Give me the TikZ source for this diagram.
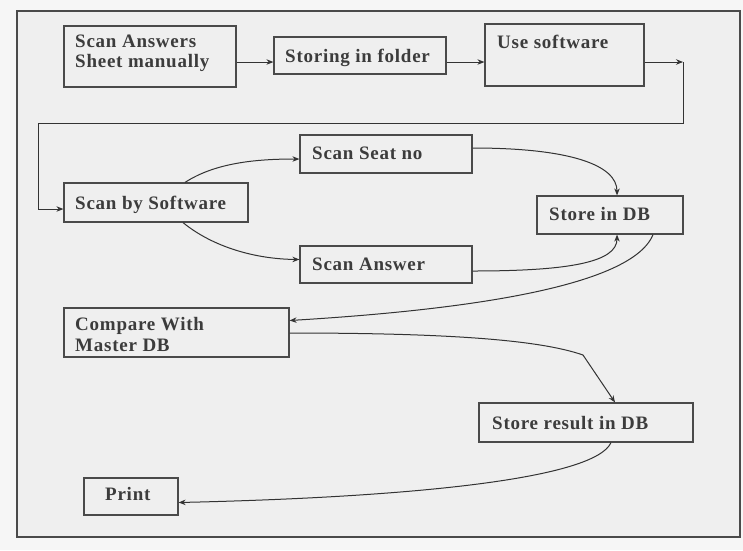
\documentclass[tikz,border=0pt]{standalone}
\usepackage{fontspec}
\setmainfont{Liberation Serif}[LetterSpace=4]
\usetikzlibrary{arrows.meta}
\definecolor{pagebg}{HTML}{F6F6F6}
\definecolor{panelbg}{HTML}{EFEFEF}
\definecolor{ink}{HTML}{3C3C3C}
\definecolor{rule}{HTML}{4A4A4A}
\tikzset{
  box/.style={draw=rule, line width=1.2pt, rectangle, inner sep=0pt},
  lbl/.style={anchor=base west, inner sep=0pt, text=ink,
              font=\fontsize{19}{21}\selectfont\bfseries},
  flow/.style={draw=black!80, line width=1pt,
               -{Stealth[length=7pt,width=5.5pt]}},
}
\begin{document}
\begin{tikzpicture}[x=1pt,y=-1pt]
  % page and outer frame
  \useasboundingbox (0,0) rectangle (743,550);
  \fill[pagebg] (0,0) rectangle (743,550);
  \draw[draw=rule, line width=1.2pt, fill=panelbg] (17,11) rectangle (740,537);

  % process boxes
  \node[box, minimum width=172pt, minimum height=61pt] (sa)  at (150,56.5) {};
  \node[box, minimum width=172pt, minimum height=37pt] (sf)  at (360,55.5) {};
  \node[box, minimum width=159pt, minimum height=62pt] (us)  at (564.5,55) {};
  \node[box, minimum width=184pt, minimum height=39pt] (sbs) at (156,202.5) {};
  \node[box, minimum width=172pt, minimum height=38pt] (ssn) at (386,154) {};
  \node[box, minimum width=172pt, minimum height=37pt] (san) at (386,264.5) {};
  \node[box, minimum width=146pt, minimum height=38pt] (sdb) at (610,215) {};
  \node[box, minimum width=225pt, minimum height=49pt] (cmp) at (176.5,332.5) {};
  \node[box, minimum width=214pt, minimum height=39pt] (srd) at (586,422.5) {};
  \node[box, minimum width=94pt,  minimum height=37pt] (prt) at (131,496.5) {};

  % box captions
  \node[lbl] (tsa1) at (75,47)   {Scan Answers};
  \node[lbl] (tsa2) at (75,67)   {Sheet manually};
  \node[lbl] (tsf)  at (285,62)  {Storing in folder};
  \node[lbl] (tus)  at (497,48)  {Use software};
  \node[lbl] (tsbs) at (75,209)  {Scan by Software};
  \node[lbl] (tssn) at (312,159) {Scan Seat no};
  \node[lbl] (tsan) at (312,270) {Scan Answer};
  \node[lbl] (tsdb) at (549,220) {Store in DB};
  \node[lbl] (tcm1) at (75,330)  {Compare With};
  \node[lbl] (tcm2) at (75,351)  {Master DB};
  \node[lbl] (tsrd) at (492,429) {Store result in DB};
  \node[lbl] (tprt) at (105,500) {Print};

  % helper points for the routed connectors
  \coordinate (row1) at (0,62);
  \coordinate (bend1) at (683,62);
  \coordinate (bend2) at (683,123);
  \coordinate (bend3) at (38,123);
  \coordinate (row2) at (0,209);
  \coordinate (kink) at (583,355);

  % top row
  \draw[flow] (sa.east |- row1) -- (sf.west |- row1);
  \draw[flow] (sf.east |- row1) -- (us.west |- row1);
  \draw[flow] (us.east |- row1) -- (bend1);
  \draw[flow] (bend1) -- (bend2) -- (bend3) -- (bend3 |- row2) -- (sbs.west |- row2);

  % fan out to the two scans
  \draw[flow] ([xshift=29pt]sbs.north) .. controls (215,163) and (255,159) .. ([yshift=-5pt]ssn.west);
  \draw[flow] ([xshift=27pt]sbs.south) .. controls (213,247) and (255,259) .. ([yshift=5pt]san.west);

  % into the database
  \draw[flow] ([yshift=6pt]ssn.east) .. controls (570,148) and (617,165) .. ([xshift=7pt]sdb.north);
  \draw[flow] ([yshift=-6.5pt]san.east) .. controls (570,271) and (617,262) .. ([xshift=7pt]sdb.south);

  % compare, store result, print
  \draw[flow] ([xshift=43pt]sdb.south) .. controls (630,292) and (430,312) .. ([yshift=12pt]cmp.east);
  \draw[flow] ([yshift=-0.5pt]cmp.east) .. controls (450,333) and (540,340) .. (kink) -- ([xshift=29pt]srd.north);
  \draw[flow] ([xshift=25pt]srd.south) .. controls (595,478) and (420,497) .. ([yshift=-6pt]prt.east);
\end{tikzpicture}
\end{document}
